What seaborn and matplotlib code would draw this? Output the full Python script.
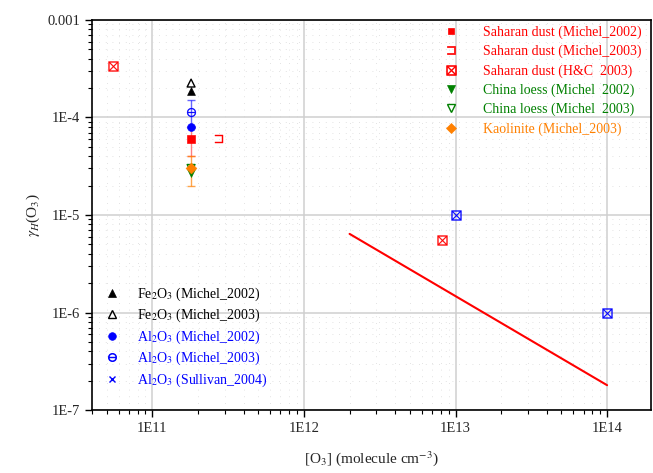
import numpy as np
import pandas as pd
import matplotlib
matplotlib.use("Agg")
import matplotlib.pyplot as plt
from matplotlib.ticker import LogLocator, FixedLocator, NullFormatter
from matplotlib.lines import Line2D
import seaborn as sns

# ---- data: ozone uptake coefficients on mineral dust ----
# Saharan dust
sah02_x = [1.8e11]
sah02_y = [6.0e-5]
sah02_err = [2.0e-5]
sah03_x = [2.75e11]
sah03_y = [6.0e-5]
sahhc_x = [5.5e10, 8.2e12]
sahhc_y = [3.4e-4, 5.5e-6]
# China loess
loess02_x = [1.8e11]
loess02_y = [2.7e-5]
loess03_x = [1.8e11]
loess03_y = [3.0e-5]
# Kaolinite
kao03_x = [1.8e11]
kao03_y = [3.0e-5]
kao03_err = [1.0e-5]
# Fe2O3
fe02_x = [1.8e11]
fe02_y = [1.85e-4]
fe03_x = [1.8e11]
fe03_y = [2.25e-4]
# Al2O3
al02_x = [1.8e11]
al02_y = [8.0e-5]
al03_x = [1.8e11]
al03_y = [1.15e-4]
al03_err = [3.5e-5]
alsul_x = [1.0e13, 1.0e14]
alsul_y = [1.0e-5, 1.0e-6]
# power-law fit line (end points)
fit_x = [2.0e12, 1.0e14]
fit_y = [6.4e-6, 1.8e-7]

x_ticks = [1e11, 1e12, 1e13, 1e14]
x_ticklabels = ["1E11", "1E12", "1E13", "1E14"]
y_ticks = [1e-7, 1e-6, 1e-5, 1e-4, 1e-3]
y_ticklabels = ["1E-7", "1E-6", "1E-5", "1E-4", "0.001"]

RED = "#ff0000"
GREEN = "#008000"
ORANGE = "#ff8000"
BLUE = "#0000ff"
BLACK = "#000000"

sns.set_theme(style="white")
plt.rcParams["font.family"] = ["Liberation Serif", "DejaVu Serif"]
plt.rcParams["mathtext.fontset"] = "stix"

fig = plt.figure(figsize=(6.53, 4.73), dpi=100)
ax = fig.add_axes([0.141, 0.133, 0.856, 0.825])
ax.set_xscale("log")
ax.set_yscale("log")


def pts(xs, ys, **kw):
    df = pd.DataFrame({"x": xs, "y": ys})
    sns.scatterplot(data=df, x="x", y="y", ax=ax, legend=False, zorder=4, **kw)


# error bars
ax.errorbar(al03_x, al03_y, yerr=al03_err, fmt="none", ecolor=BLUE, elinewidth=1,
            capsize=3, alpha=0.6, zorder=3)
ax.errorbar(sah02_x, sah02_y, yerr=sah02_err, fmt="none", ecolor=RED, elinewidth=1,
            capsize=3, alpha=0.5, zorder=3)
ax.errorbar(kao03_x, kao03_y, yerr=kao03_err, fmt="none", ecolor=ORANGE, elinewidth=1,
            capsize=3, alpha=0.7, zorder=3)

# fit line
sns.lineplot(x=fit_x, y=fit_y, ax=ax, color=RED, linewidth=1.5, legend=False, zorder=3)

ms = 32
pts(sah02_x, sah02_y, marker="s", s=ms, color=RED, edgecolor=RED)
pts(sah03_x, sah03_y, marker=r"$\sqsupset$", s=40, color=RED, edgecolor=RED, linewidth=0.3)
pts(sahhc_x, sahhc_y, marker=r"$\boxtimes$", s=50, color=RED, edgecolor=RED, linewidth=0.3)
pts(loess02_x, loess02_y, marker="v", s=ms, color=GREEN, edgecolor=GREEN)
pts(loess03_x, loess03_y, marker="v", s=ms, facecolor="none", edgecolor=GREEN, linewidth=1)
pts(kao03_x, kao03_y, marker="D", s=30, color=ORANGE, edgecolor=ORANGE)
pts(fe02_x, fe02_y, marker="^", s=ms, color=BLACK, edgecolor=BLACK)
pts(fe03_x, fe03_y, marker="^", s=ms, facecolor="none", edgecolor=BLACK, linewidth=1)
pts(al02_x, al02_y, marker="o", s=ms, color=BLUE, edgecolor=BLUE)
pts(al03_x, al03_y, marker=r"$\ominus$", s=40, color=BLUE, edgecolor=BLUE, linewidth=0.3)
pts(alsul_x, alsul_y, marker=r"$\boxtimes$", s=50, color=BLUE, edgecolor=BLUE, linewidth=0.3)

# axes limits, ticks, grid
ax.set_xlim(4e10, 1.95e14)
ax.set_ylim(1e-7, 1e-3)
ax.xaxis.set_major_locator(FixedLocator(x_ticks))
ax.set_xticklabels(x_ticklabels)
ax.yaxis.set_major_locator(FixedLocator(y_ticks))
ax.set_yticklabels(y_ticklabels)
ax.xaxis.set_minor_locator(LogLocator(base=10, subs=np.arange(2, 10), numticks=20))
ax.yaxis.set_minor_locator(LogLocator(base=10, subs=np.arange(2, 10), numticks=20))
ax.xaxis.set_minor_formatter(NullFormatter())
ax.yaxis.set_minor_formatter(NullFormatter())
ax.tick_params(which="major", direction="out", length=5, width=1, color="black",
               labelsize=10.5, bottom=True, left=True, top=False, right=False)
ax.tick_params(which="minor", direction="out", length=3, width=0.8, color="black",
               bottom=True, left=True, top=False, right=False)
ax.grid(True, which="major", color="#cfcfcf", linewidth=1.1, zorder=0)
ax.grid(True, which="minor", color="#d9d9d9", linewidth=0.6, linestyle=(0, (1, 7)), zorder=0)
ax.set_axisbelow(True)
for sp in ax.spines.values():
    sp.set_color("black")
    sp.set_linewidth(1.2)

ax.set_xlabel(r"[O$_3$] (molecule cm$^{-3}$)", fontsize=11, labelpad=10)
ax.set_ylabel(r"$\gamma_{H}$(O$_3$)", fontsize=11, labelpad=4)

# legends
def handle(marker, color, filled=True, size=5.5):
    return Line2D([], [], linestyle="none", marker=marker, markersize=size,
                  markerfacecolor=color if filled else "none",
                  markeredgecolor=color, markeredgewidth=1 if not filled else 0.5)

h_right = [
    handle("s", RED, size=5),
    handle(r"$\sqsupset$", RED, size=6),
    handle(r"$\boxtimes$", RED, size=7),
    handle("v", GREEN),
    handle("v", GREEN, filled=False),
    handle("D", ORANGE, size=5),
]
l_right = ["Saharan dust (Michel_2002)", "Saharan dust (Michel_2003)",
           "Saharan dust (H&C  2003)", "China loess (Michel  2002)",
           "China loess (Michel  2003)", "Kaolinite (Michel_2003)"]
c_right = [RED, RED, RED, GREEN, GREEN, ORANGE]
leg1 = ax.legend(h_right, l_right, loc="upper right", bbox_to_anchor=(1.0, 1.01),
                 frameon=False, fontsize=10, handletextpad=1.5, labelspacing=0.42,
                 borderaxespad=0.3, handlelength=1.5)
for t, c in zip(leg1.get_texts(), c_right):
    t.set_color(c)
ax.add_artist(leg1)

h_left = [
    handle("^", BLACK),
    handle("^", BLACK, filled=False),
    handle("o", BLUE),
    handle(r"$\ominus$", BLUE, size=6),
    handle("x", BLUE, filled=False, size=5),
]
l_left = [r"Fe$_2$O$_3$ (Michel_2002)", r"Fe$_2$O$_3$ (Michel_2003)",
          r"Al$_2$O$_3$ (Michel_2002)", r"Al$_2$O$_3$ (Michel_2003)",
          r"Al$_2$O$_3$ (Sullivan_2004)"]
c_left = [BLACK, BLACK, BLUE, BLUE, BLUE]
leg2 = ax.legend(h_left, l_left, loc="lower left", bbox_to_anchor=(0.0, 0.03),
                 frameon=False, fontsize=10, handletextpad=1.0, labelspacing=0.3,
                 borderaxespad=0.3, handlelength=1.5)
for t, c in zip(leg2.get_texts(), c_left):
    t.set_color(c)

fig.savefig("out.png", dpi=100)
